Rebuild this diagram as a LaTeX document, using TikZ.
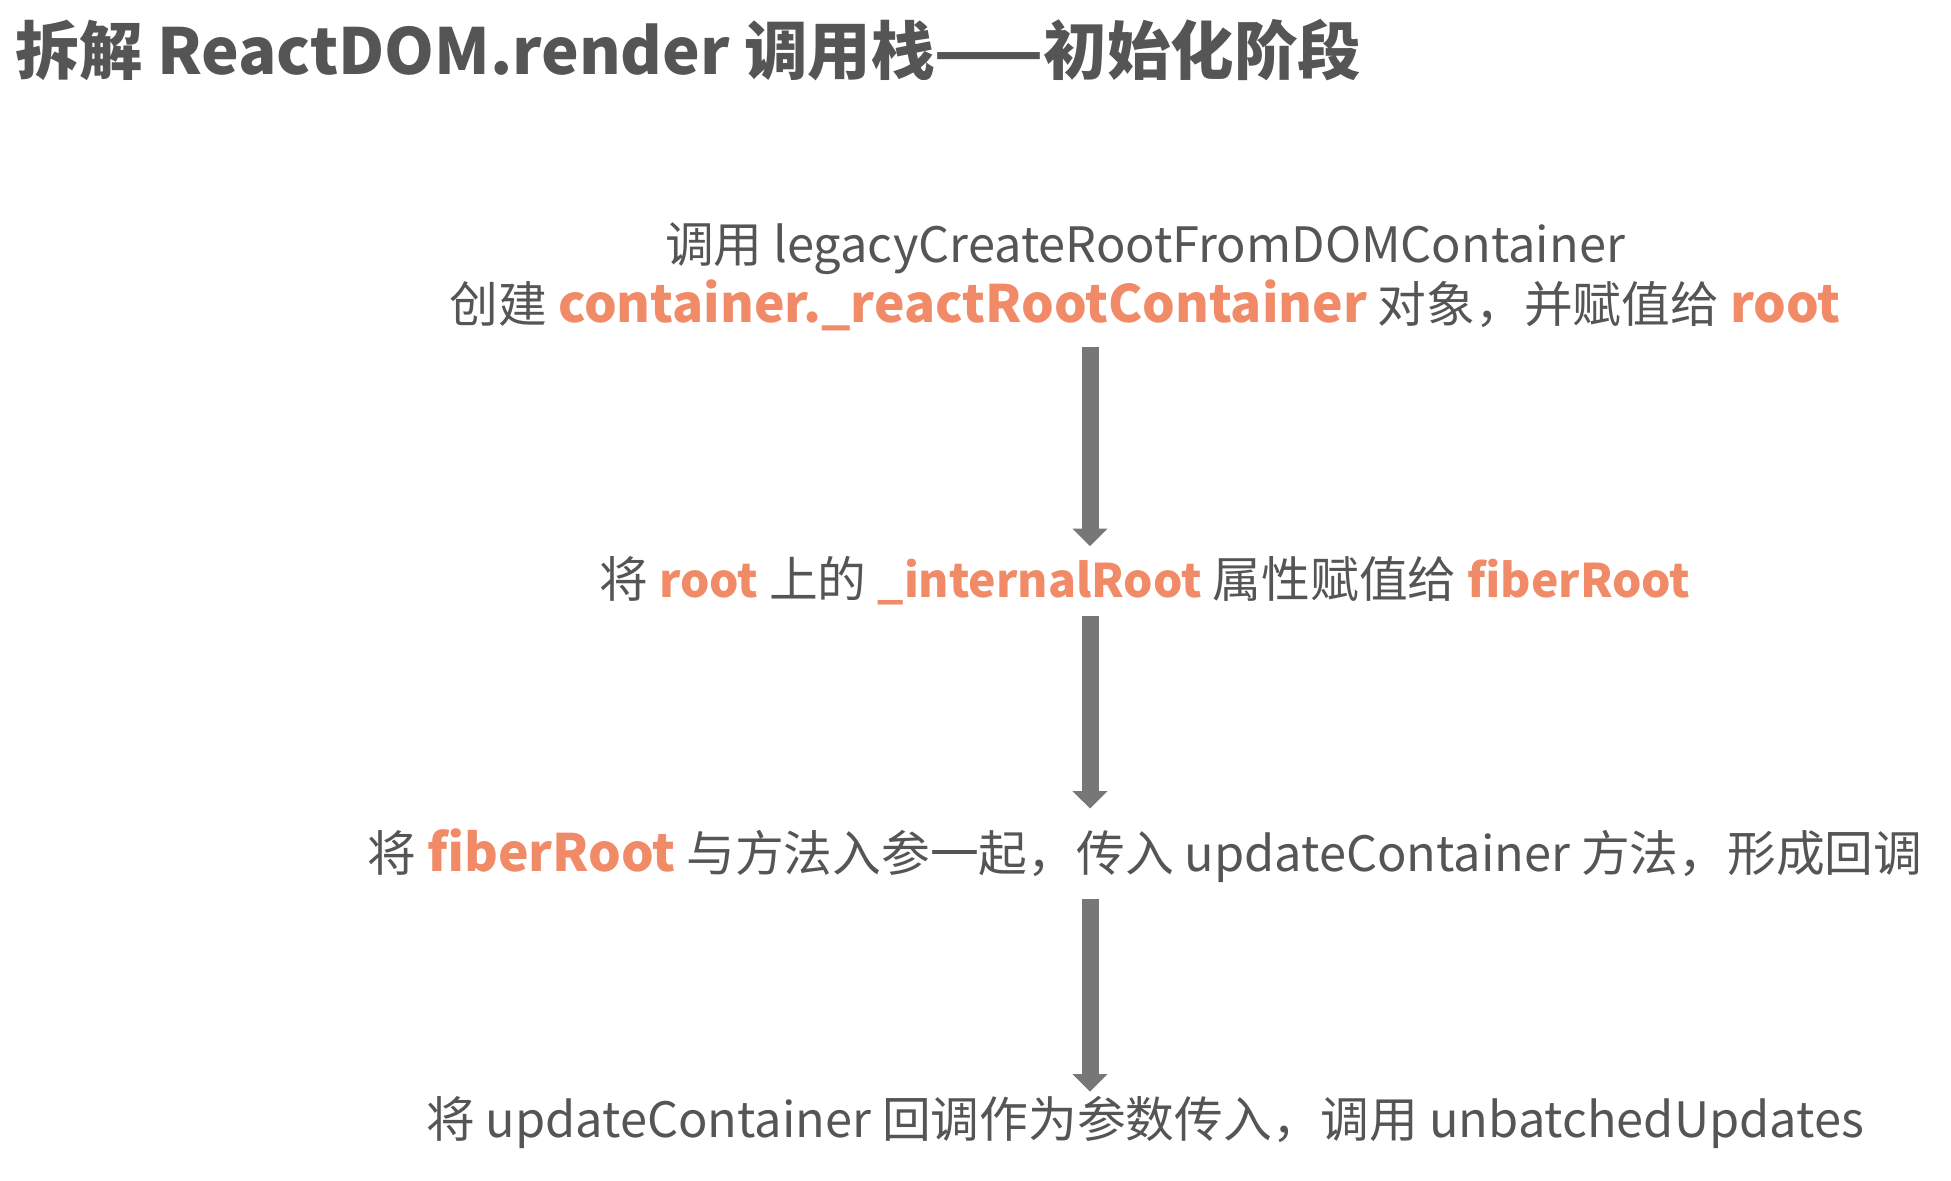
\documentclass[tikz,border=0pt]{standalone}
\usepackage{fontspec}
\setmainfont{Noto Sans CJK SC}
\usetikzlibrary{positioning, arrows.meta}

\definecolor{txtgray}{HTML}{555555}
\definecolor{hlorange}{HTML}{F08A67}
\definecolor{arrgray}{HTML}{777777}

% highlighted names, optional size
\newcommand{\hl}[2][20.6]{{\color{hlorange}\bfseries\fontsize{#1}{25}\selectfont #2}}

\begin{document}
\begin{tikzpicture}[
    x=0.4pt, y=-0.4pt,
    font=\fontsize{19.5}{23}\selectfont,
    text=txtgray,
    stepline/.style={anchor=center, inner sep=0pt, align=center},
    flow/.style={draw=arrgray, line width=6.8pt, -{Triangle[width=13.6pt, length=7pt]}}
]
\useasboundingbox (0,0) rectangle (1951,1180);

\node[anchor=west, inner sep=0pt, font=\bfseries\fontsize{25.4}{30}\selectfont] (title) at (15,50) {拆解 ReactDOM.render 调用栈——初始化阶段};

\node[stepline] (create) at (1145,249) {调用 legacyCreateRootFromDOMContainer};
\node[stepline] (assign) at (1145,305) {创建 \hl{container.\_reactRootContainer} 对象，并赋值给 \hl{root}};
\node[stepline] (fiber) at (1145,581) {将 \hl[18.5]{root} 上的 \hl[18.5]{\_internalRoot} 属性赋值给 \hl[18.5]{fiberRoot}};
\node[stepline] (update) at (1145,856) {将 \hl{fiberRoot} 与方法入参一起，传入 updateContainer 方法，形成回调};
\node[stepline] (unbatch) at (1145,1122) {将 updateContainer 回调作为参数传入，调用 unbatchedUpdates};

\coordinate (axis) at (1090,0);

\draw[flow, shorten >=4pt] (assign.south -| axis) ++(0,16) -- (fiber.north -| axis);
\draw[flow, shorten >=8pt] (fiber.south -| axis) ++(0,10) -- (update.north -| axis);
\draw[flow, shorten >=1.5pt] (update.south -| axis) ++(0,16) -- (unbatch.north -| axis);

\end{tikzpicture}
\end{document}
